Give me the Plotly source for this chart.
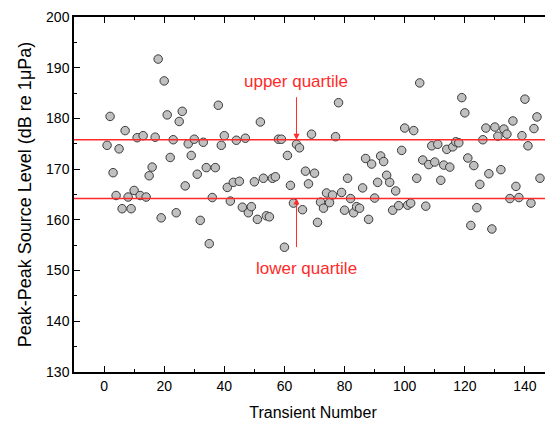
import plotly.graph_objects as go

transient = list(range(1, 146))
level = [
    174.7, 180.4, 169.3, 164.8, 174.0, 162.2, 177.6, 164.5, 162.2, 165.8,
    176.2, 164.8, 176.6, 164.5, 168.7, 170.4, 176.3, 191.7, 160.4, 187.4,
    180.7, 172.3, 175.8, 161.4, 179.4, 181.4, 166.7, 175.0, 172.7, 175.9,
    169.0, 159.9, 175.3, 170.3, 155.3, 164.4, 170.3, 182.6, 174.7, 176.6,
    166.4, 163.7, 167.4, 175.7, 167.6, 162.5, 176.1, 161.4, 162.6, 167.5,
    160.1, 179.3, 168.2, 160.8, 160.6, 168.2, 168.5, 175.9, 175.9, 154.6,
    172.7, 166.8, 163.3, 174.9, 174.2, 162.0, 169.6, 167.1, 176.9, 169.2,
    159.5, 163.5, 162.3, 165.3, 163.4, 164.9, 176.4, 183.1, 165.4, 161.9,
    168.2, 164.2, 161.4, 162.6, 162.3, 166.3, 172.1, 160.1, 171.0, 164.3,
    167.4, 172.6, 171.5, 168.8, 167.4, 161.9, 165.7, 162.8, 173.7, 178.1,
    162.9, 163.3, 177.6, 168.2, 187.0, 171.8, 162.7, 170.9, 174.6, 171.4,
    174.9, 167.8, 170.8, 173.9, 170.4, 174.4, 175.4, 175.2, 184.1, 181.1,
    172.2, 158.9, 170.7, 162.4, 167.0, 175.8, 178.1, 169.1, 158.2, 178.3,
    176.5, 169.9, 177.9, 176.9, 164.2, 179.5, 166.6, 164.4, 176.6, 183.8,
    174.6, 163.3, 178.0, 180.3, 168.2,
]
upper_quartile = 175.8
lower_quartile = 164.2
x_ticks = [0, 20, 40, 60, 80, 100, 120, 140]
y_ticks = [130, 140, 150, 160, 170, 180, 190, 200]

FONT = "Liberation Sans, Arial, sans-serif"
RED = "#ff2a2a"

fig = go.Figure()
fig.add_trace(go.Scatter(
    x=transient, y=level, mode="markers",
    marker=dict(size=8.5, color="#c0c0c0", line=dict(color="#3a3a3a", width=1)),
    showlegend=False, cliponaxis=False,
))

for q in (upper_quartile, lower_quartile):
    fig.add_shape(type="line", xref="paper", x0=0, x1=1, yref="y", y0=q, y1=q,
                  line=dict(color=RED, width=1.5), layer="above")

fig.add_annotation(x=64, y=upper_quartile, ax=0, ay=-44, showarrow=True,
                   arrowhead=2, arrowsize=1.2, arrowwidth=1, arrowcolor=RED, text="")
fig.add_annotation(x=64, y=lower_quartile, ax=0, ay=50, showarrow=True,
                   arrowhead=2, arrowsize=1.2, arrowwidth=1, arrowcolor=RED, text="")
fig.add_annotation(x=64, y=187.2, text="upper quartile", showarrow=False,
                   font=dict(family=FONT, size=17, color=RED))
fig.add_annotation(x=67.2, y=150.4, text="lower quartile", showarrow=False,
                   font=dict(family=FONT, size=17, color=RED))

axis_common = dict(
    showline=True, linecolor="black", linewidth=1.5, mirror="ticks",
    ticks="inside", ticklen=6, tickwidth=1.2, tickcolor="black",
    showgrid=False, zeroline=False, automargin=False,
    tickfont=dict(family=FONT, size=14, color="black"),
)

fig.update_xaxes(
    range=[-10, 149], tickvals=x_ticks,
    minor=dict(ticks="inside", ticklen=3, tickwidth=1, tickcolor="black", dtick=10, tick0=0),
    title=dict(text="Transient Number", font=dict(family=FONT, size=16, color="black"), standoff=14),
    **axis_common,
)
fig.update_yaxes(
    range=[130, 200], tickvals=y_ticks,
    minor=dict(ticks="inside", ticklen=3, tickwidth=1, tickcolor="black", dtick=5, tick0=130),
    title=dict(text="Peak-Peak Source Level (dB re 1μPa)", font=dict(family=FONT, size=18, color="black"), standoff=10),
    **axis_common,
)

fig.update_layout(
    width=545, height=413,
    margin=dict(l=66, r=1, t=9, b=49),
    plot_bgcolor="white", paper_bgcolor="white",
)

fig.write_html("out.html")
